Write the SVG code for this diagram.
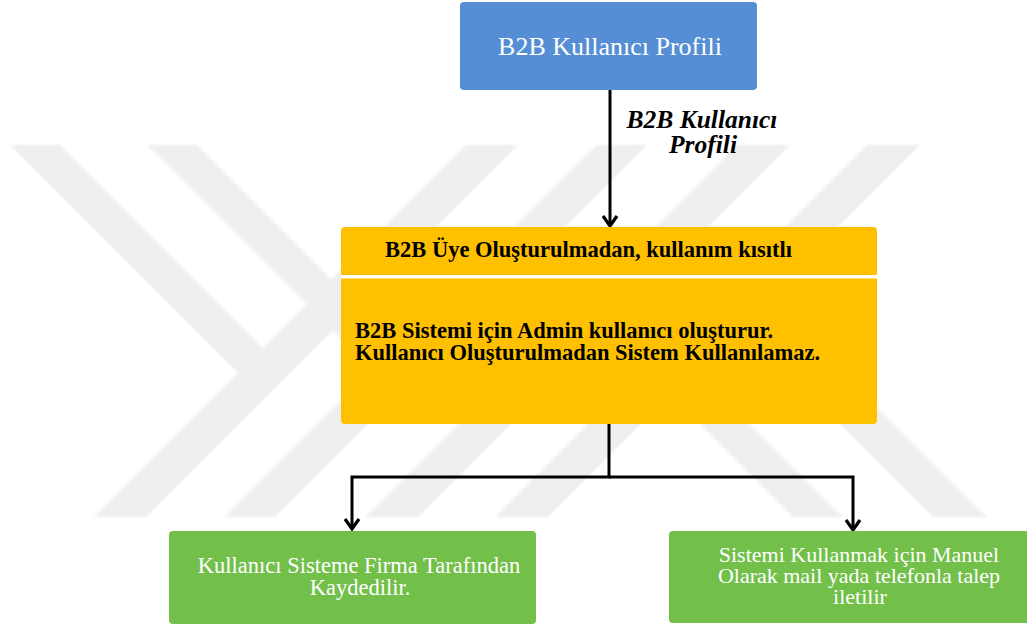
<svg xmlns="http://www.w3.org/2000/svg" width="1027" height="629" viewBox="0 0 1027 629">
  <style>
    .wm { fill: #efefef; }
    .blue { fill: #558ed5; }
    .orange { fill: #ffc000; }
    .green { fill: #72c04a; }
    .t { font-family: "Liberation Serif", "Times New Roman", serif; }
    .white { fill: #ffffff; }
    .black { fill: #000000; }
    .bold { font-weight: bold; }
    .wire { fill: none; stroke: #000000; stroke-width: 3; }
  </style>
  <defs>
    <marker id="vhead" markerUnits="userSpaceOnUse" markerWidth="24" markerHeight="24" viewBox="-12 -12 24 24" refX="0" refY="0" orient="auto">
      <path d="M-10,-7 L0,0 L-10,7" fill="none" stroke="#000000" stroke-width="3.2" stroke-linejoin="miter"/>
    </marker>
    <filter id="soft" x="-5%" y="-5%" width="110%" height="110%">
      <feGaussianBlur stdDeviation="1.2"/>
    </filter>
  </defs>

  <rect x="0" y="0" width="1027" height="629" fill="#ffffff"/>

  <!-- light background emblem: diagonal stripes -->
  <g id="emblem" filter="url(#soft)">
    <polygon class="wm" points="466,145 518,145 146,517 94,517"/>
    <polygon class="wm" points="597,145 647,145 275,517 225,517"/>
    <polygon class="wm" points="737,145 790,145 418,517 365,517"/>
    <polygon class="wm" points="867,145 920,145 548,517 495,517"/>
    <polygon class="wm" points="10,145 60,145 289,374 238,373"/>
    <polygon class="wm" points="147,145 197,145 422,370 372,370"/>
    <polygon class="wm" points="579,303 604,278 843,517 793,517"/>
    <polygon class="wm" points="714,298 741,271 987,517 933,517"/>
  </g>

  <!-- connectors -->
  <g id="connectors">
    <line class="wire" x1="610" y1="90" x2="610" y2="226" marker-end="url(#vhead)"/>
    <text class="t bold black" font-family="Liberation Serif, serif" font-style="italic" font-size="25.5" text-anchor="middle" x="702" y="128">B2B Kullanıcı</text>
    <text class="t bold black" font-family="Liberation Serif, serif" font-style="italic" font-size="25.5" text-anchor="middle" x="703" y="153">Profili</text>
    <polyline class="wire" points="609,424 609,477 352,477 352,529" marker-end="url(#vhead)"/>
    <polyline class="wire" points="609,477 853,477 853,530" marker-end="url(#vhead)"/>
  </g>

  <!-- top profile node -->
  <g id="node-profile">
    <rect class="blue" x="460" y="2" width="297" height="88" rx="4"/>
    <text class="t white" font-family="Liberation Serif, serif" font-size="26" text-anchor="middle" x="610" y="55">B2B Kullanıcı Profili</text>
  </g>

  <!-- membership restriction node with header strip -->
  <g id="node-restriction">
    <rect class="orange" x="341" y="227" width="536" height="197" rx="4"/>
    <rect x="341" y="275" width="536" height="3.5" fill="#ffffff"/>
    <text class="t bold black" font-family="Liberation Serif, serif" font-size="22.5" x="385" y="257">B2B Üye Oluşturulmadan, kullanım kısıtlı</text>
    <text class="t bold black" font-family="Liberation Serif, serif" font-size="22.5" x="355" y="338">B2B Sistemi için Admin kullanıcı oluşturur.</text>
    <text class="t bold black" font-family="Liberation Serif, serif" font-size="22.5" x="355" y="360">Kullanıcı Oluşturulmadan Sistem Kullanılamaz.</text>
  </g>

  <!-- left outcome -->
  <g id="node-firm">
    <rect class="green" x="169" y="531" width="367" height="93" rx="4"/>
    <text class="t white" font-family="Liberation Serif, serif" font-size="22.5" text-anchor="middle" x="359" y="573">Kullanıcı Sisteme Firma Tarafından</text>
    <text class="t white" font-family="Liberation Serif, serif" font-size="22.5" text-anchor="middle" x="360" y="595">Kaydedilir.</text>
  </g>

  <!-- right outcome -->
  <g id="node-manual">
    <rect class="green" x="669" y="531" width="364" height="92" rx="4"/>
    <text class="t white" font-family="Liberation Serif, serif" font-size="22" text-anchor="middle" x="859" y="562">Sistemi Kullanmak için Manuel</text>
    <text class="t white" font-family="Liberation Serif, serif" font-size="22" text-anchor="middle" x="859" y="583">Olarak mail yada telefonla talep</text>
    <text class="t white" font-family="Liberation Serif, serif" font-size="22" text-anchor="middle" x="860" y="604">iletilir</text>
  </g>
</svg>
